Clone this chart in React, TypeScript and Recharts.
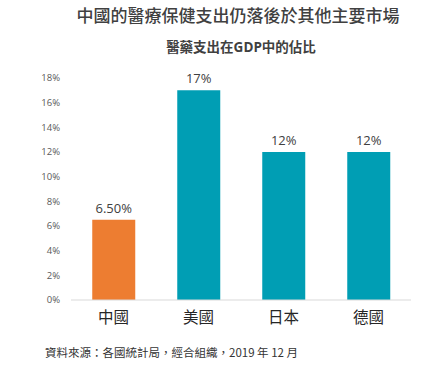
import { BarChart, Bar, XAxis, YAxis, Cell, LabelList } from "recharts";

const countries = ["中國", "美國", "日本", "德國"];
const shares = [6.5, 17, 12, 12];
const valueLabels = ["6.50%", "17%", "12%", "12%"];
const barColors = ["#ED7D31", "#009EB4", "#009EB4", "#009EB4"];
const yTicks = [0, 2, 4, 6, 8, 10, 12, 14, 16, 18];

const data = countries.map((name, i) => ({
  name,
  value: shares[i],
  label: valueLabels[i],
}));

const latin = '"Open Sans", "Noto Sans CJK TC", sans-serif';

export default function App() {
  return (
    <div
      style={{
        position: "absolute",
        left: 0,
        top: 0,
        width: 429,
        height: 373,
        background: "#fff",
        fontFamily: latin,
      }}
    >
      <div
        style={{
          position: "absolute",
          left: 0,
          width: 476,
          top: 4,
          textAlign: "center",
          fontSize: 17,
          lineHeight: "22px",
          fontWeight: 500,
          color: "#404040",
          fontFamily: '"Noto Sans CJK TC", sans-serif',
        }}
      >
        中國的醫療保健支出仍落後於其他主要市場
      </div>
      <div
        style={{
          position: "absolute",
          left: 0,
          width: 482,
          top: 37,
          textAlign: "center",
          fontSize: 13.5,
          lineHeight: "20px",
          fontWeight: 700,
          color: "#404040",
          fontFamily: latin,
        }}
      >
        醫藥支出在GDP中的佔比
      </div>
      <BarChart
        width={429}
        height={373}
        data={data}
        margin={{ top: 78, right: 18, bottom: 43, left: 0 }}
        barCategoryGap="25%"
      >
        <YAxis
          width={71}
          domain={[0, 18]}
          ticks={yTicks}
          tickFormatter={(v: number) => `${v}%`}
          axisLine={false}
          tickLine={false}
          tickSize={0}
          tickMargin={11}
          tick={{ fontSize: 9.5, fill: "#595959", fontFamily: latin }}
        />
        <XAxis
          dataKey="name"
          height={30}
          axisLine={{ stroke: "#D9D9D9" }}
          tickLine={false}
          tickSize={0}
          tickMargin={12}
          tick={{
            fontSize: 15.5,
            fill: "#262626",
            fontFamily: '"Noto Sans CJK TC", sans-serif',
          }}
        />
        <Bar dataKey="value" isAnimationActive={false}>
          {data.map((d, i) => (
            <Cell key={d.name} fill={barColors[i]} />
          ))}
          <LabelList
            dataKey="label"
            position="top"
            offset={7}
            style={{ fontSize: 13, fill: "#404040", fontFamily: latin }}
          />
        </Bar>
      </BarChart>
      <div
        style={{
          position: "absolute",
          left: 45,
          top: 344,
          fontSize: 11.5,
          lineHeight: "16px",
          color: "#333",
          fontFamily: '"Noto Sans CJK TC", sans-serif',
          whiteSpace: "nowrap",
        }}
      >
        資料來源：各國統計局，經合組織，2019 年 12 月
      </div>
    </div>
  );
}
